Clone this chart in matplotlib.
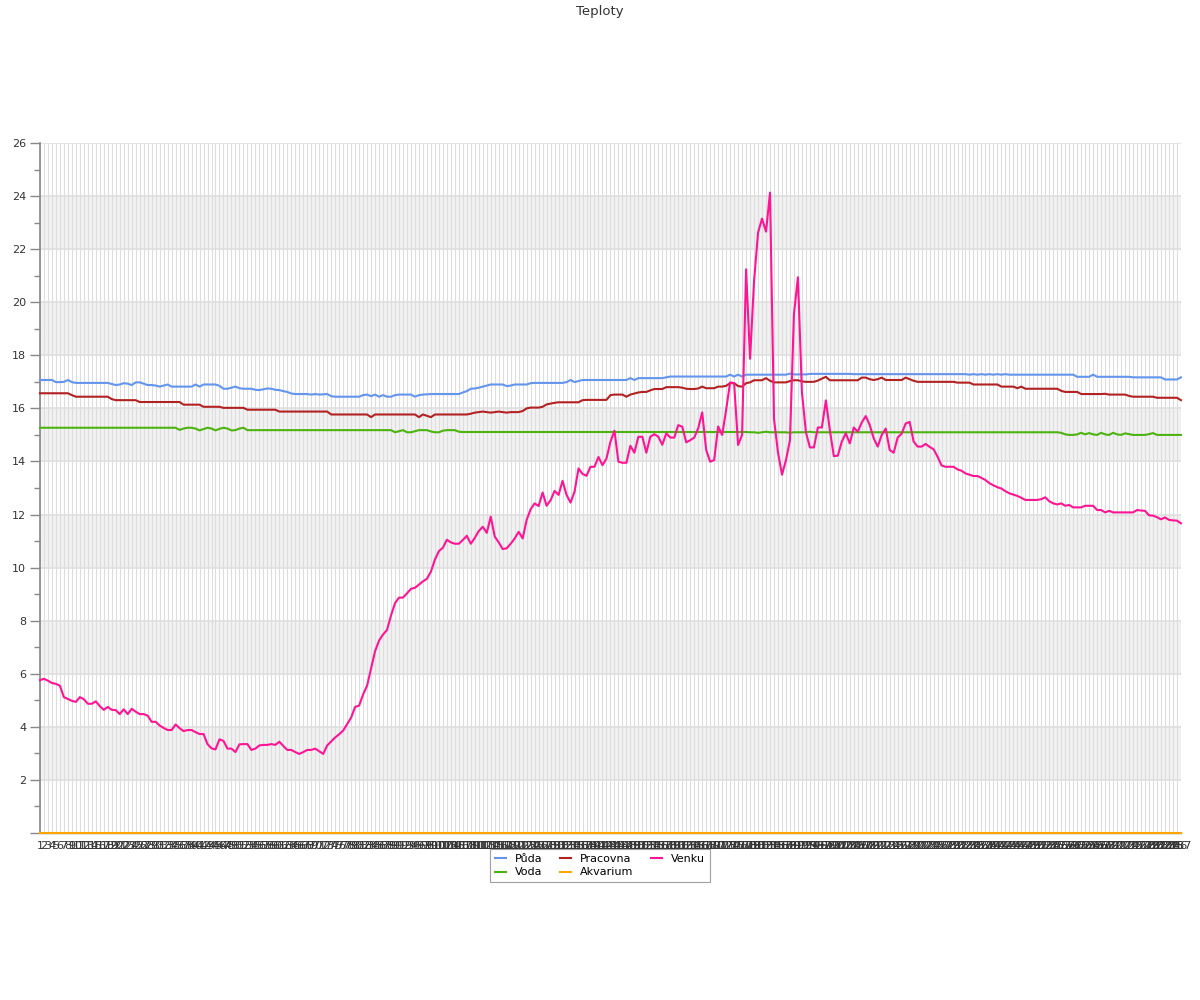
import matplotlib
matplotlib.use('Agg')
import matplotlib.pyplot as plt
from matplotlib.lines import Line2D
from matplotlib.ticker import MultipleLocator

# x categories 1..287
labels = [str(i) for i in range(1, 288)]

puda = [
    17.07, 17.07, 17.07, 17.07, 16.99, 16.99, 17.00, 17.07, 16.99, 16.96,
    16.96, 16.96, 16.96, 16.96, 16.96, 16.96, 16.96, 16.96, 16.92, 16.88,
    16.90, 16.95, 16.93, 16.88, 16.98, 16.98, 16.93, 16.88, 16.88, 16.86,
    16.82, 16.86, 16.90, 16.82, 16.82, 16.82, 16.82, 16.82, 16.82, 16.90,
    16.82, 16.90, 16.90, 16.90, 16.90, 16.85, 16.74, 16.74, 16.78, 16.82,
    16.76, 16.74, 16.74, 16.74, 16.70, 16.69, 16.72, 16.75, 16.74, 16.70,
    16.69, 16.65, 16.62, 16.56, 16.54, 16.54, 16.54, 16.54, 16.52, 16.54,
    16.52, 16.53, 16.54, 16.46, 16.44, 16.44, 16.44, 16.44, 16.44, 16.44,
    16.44, 16.50, 16.52, 16.46, 16.52, 16.44, 16.50, 16.44, 16.44, 16.50,
    16.52, 16.52, 16.52, 16.52, 16.44, 16.50, 16.52, 16.53, 16.54, 16.54,
    16.54, 16.54, 16.54, 16.54, 16.54, 16.54, 16.60, 16.65, 16.74, 16.75,
    16.78, 16.82, 16.86, 16.90, 16.90, 16.90, 16.90, 16.84, 16.86, 16.90,
    16.90, 16.90, 16.90, 16.95, 16.96, 16.96, 16.96, 16.96, 16.96, 16.96,
    16.96, 16.96, 16.99, 17.07, 16.99, 17.03, 17.07, 17.07, 17.07, 17.07,
    17.07, 17.07, 17.07, 17.07, 17.07, 17.07, 17.07, 17.07, 17.14, 17.07,
    17.14, 17.14, 17.14, 17.14, 17.14, 17.14, 17.14, 17.17, 17.20, 17.20,
    17.20, 17.20, 17.20, 17.20, 17.20, 17.20, 17.20, 17.20, 17.20, 17.20,
    17.20, 17.20, 17.20, 17.27, 17.20, 17.27, 17.20, 17.27, 17.27, 17.27,
    17.27, 17.27, 17.27, 17.27, 17.27, 17.27, 17.27, 17.27, 17.31, 17.28,
    17.28, 17.28, 17.28, 17.30, 17.30, 17.30, 17.30, 17.30, 17.30, 17.30,
    17.30, 17.30, 17.30, 17.30, 17.29, 17.29, 17.29, 17.29, 17.29, 17.29,
    17.29, 17.29, 17.29, 17.29, 17.29, 17.29, 17.29, 17.29, 17.29, 17.29,
    17.29, 17.29, 17.29, 17.29, 17.29, 17.29, 17.29, 17.29, 17.29, 17.29,
    17.29, 17.29, 17.29, 17.27, 17.29, 17.27, 17.29, 17.27, 17.29, 17.27,
    17.29, 17.27, 17.29, 17.27, 17.27, 17.27, 17.27, 17.27, 17.27, 17.27,
    17.27, 17.27, 17.27, 17.27, 17.27, 17.27, 17.27, 17.27, 17.27, 17.27,
    17.19, 17.19, 17.19, 17.19, 17.27, 17.19, 17.19, 17.19, 17.19, 17.19,
    17.19, 17.19, 17.19, 17.19, 17.17, 17.17, 17.17, 17.17, 17.17, 17.17,
    17.17, 17.17, 17.09, 17.09, 17.09, 17.09, 17.17,
]

pracovna = [
    16.57, 16.57, 16.57, 16.57, 16.57, 16.57, 16.57, 16.57, 16.50, 16.44,
    16.44, 16.44, 16.44, 16.44, 16.44, 16.44, 16.44, 16.44, 16.35, 16.31,
    16.31, 16.31, 16.31, 16.31, 16.31, 16.24, 16.24, 16.24, 16.24, 16.24,
    16.24, 16.24, 16.24, 16.24, 16.24, 16.24, 16.14, 16.14, 16.14, 16.14,
    16.14, 16.06, 16.06, 16.06, 16.06, 16.06, 16.02, 16.02, 16.02, 16.02,
    16.02, 16.02, 15.95, 15.95, 15.95, 15.95, 15.95, 15.95, 15.95, 15.95,
    15.88, 15.88, 15.88, 15.88, 15.88, 15.88, 15.88, 15.88, 15.88, 15.88,
    15.88, 15.88, 15.88, 15.77, 15.77, 15.77, 15.77, 15.77, 15.77, 15.77,
    15.77, 15.77, 15.77, 15.67, 15.77, 15.77, 15.77, 15.77, 15.77, 15.77,
    15.77, 15.77, 15.77, 15.77, 15.77, 15.67, 15.77, 15.72, 15.67, 15.77,
    15.77, 15.77, 15.77, 15.77, 15.77, 15.77, 15.77, 15.77, 15.80, 15.84,
    15.86, 15.88, 15.86, 15.84, 15.86, 15.88, 15.86, 15.84, 15.86, 15.86,
    15.86, 15.90, 16.00, 16.03, 16.03, 16.03, 16.06, 16.15, 16.18, 16.21,
    16.23, 16.23, 16.23, 16.23, 16.23, 16.23, 16.31, 16.32, 16.32, 16.32,
    16.32, 16.32, 16.32, 16.50, 16.52, 16.52, 16.52, 16.44, 16.52, 16.56,
    16.60, 16.62, 16.62, 16.68, 16.73, 16.73, 16.73, 16.80, 16.80, 16.80,
    16.80, 16.78, 16.74, 16.73, 16.73, 16.75, 16.82, 16.76, 16.76, 16.76,
    16.82, 16.82, 16.85, 16.95, 16.95, 16.84, 16.82, 16.95, 16.98, 17.06,
    17.06, 17.06, 17.14, 17.04, 16.98, 16.98, 16.98, 16.98, 17.03, 17.06,
    17.06, 17.02, 17.00, 17.00, 17.00, 17.05, 17.12, 17.19, 17.06, 17.06,
    17.06, 17.06, 17.06, 17.06, 17.06, 17.06, 17.16, 17.16, 17.10, 17.07,
    17.10, 17.16, 17.07, 17.07, 17.07, 17.07, 17.07, 17.16, 17.10, 17.04,
    17.00, 17.00, 17.00, 17.00, 17.00, 17.00, 17.00, 17.00, 17.00, 17.00,
    16.97, 16.97, 16.97, 16.97, 16.90, 16.90, 16.90, 16.90, 16.90, 16.90,
    16.90, 16.82, 16.82, 16.82, 16.82, 16.76, 16.82, 16.74, 16.74, 16.74,
    16.74, 16.74, 16.74, 16.74, 16.74, 16.74, 16.66, 16.62, 16.62, 16.62,
    16.62, 16.54, 16.54, 16.54, 16.54, 16.54, 16.54, 16.55, 16.52, 16.52,
    16.52, 16.52, 16.52, 16.47, 16.44, 16.44, 16.44, 16.44, 16.44, 16.44,
    16.40, 16.40, 16.40, 16.40, 16.40, 16.40, 16.31,
]

venku = [
    5.76, 5.81, 5.74, 5.65, 5.62, 5.55, 5.12, 5.05, 4.98, 4.94,
    5.12, 5.04, 4.87, 4.87, 4.96, 4.78, 4.64, 4.75, 4.64, 4.63,
    4.48, 4.66, 4.48, 4.68, 4.57, 4.48, 4.48, 4.42, 4.19, 4.19,
    4.05, 3.96, 3.88, 3.88, 4.09, 3.95, 3.84, 3.88, 3.88, 3.80,
    3.73, 3.73, 3.35, 3.19, 3.15, 3.53, 3.47, 3.18, 3.18, 3.05,
    3.34, 3.35, 3.35, 3.13, 3.18, 3.30, 3.32, 3.32, 3.35, 3.32,
    3.44, 3.28, 3.13, 3.13, 3.05, 2.98, 3.05, 3.13, 3.13, 3.18,
    3.08, 2.98, 3.30, 3.45, 3.60, 3.72, 3.86, 4.10, 4.35, 4.75,
    4.80, 5.22, 5.55, 6.20, 6.85, 7.25, 7.48, 7.65, 8.20, 8.66,
    8.87, 8.87, 9.03, 9.20, 9.24, 9.36, 9.48, 9.58, 9.85, 10.30,
    10.62, 10.75, 11.05, 10.95, 10.90, 10.90, 11.04, 11.20, 10.90, 11.12,
    11.38, 11.54, 11.31, 11.92, 11.17, 10.95, 10.70, 10.73, 10.90, 11.10,
    11.35, 11.10, 11.80, 12.20, 12.42, 12.32, 12.83, 12.33, 12.54, 12.89,
    12.74, 13.27, 12.74, 12.45, 12.86, 13.74, 13.53, 13.46, 13.80, 13.80,
    14.17, 13.86, 14.11, 14.74, 15.16, 13.99, 13.95, 13.95, 14.59, 14.33,
    14.93, 14.93, 14.33, 14.93, 15.03, 14.93, 14.63, 15.06, 14.90, 14.90,
    15.37, 15.31, 14.72, 14.80, 14.90, 15.25, 15.85, 14.43, 13.99, 14.05,
    15.32, 15.00, 15.94, 16.98, 16.95, 14.62, 15.00, 21.24, 17.87, 20.80,
    22.62, 23.15, 22.66, 24.13, 15.60, 14.34, 13.50, 14.05, 14.80, 19.56,
    20.94, 16.60, 15.10, 14.53, 14.53, 15.28, 15.28, 16.30, 15.18, 14.20,
    14.22, 14.75, 15.06, 14.68, 15.28, 15.12, 15.47, 15.71, 15.37, 14.87,
    14.56, 15.00, 15.24, 14.43, 14.33, 14.90, 15.05, 15.43, 15.49, 14.75,
    14.56, 14.56, 14.66, 14.55, 14.46, 14.18, 13.85, 13.80, 13.80, 13.80,
    13.70, 13.65, 13.55, 13.50, 13.45, 13.45, 13.38, 13.30, 13.18, 13.10,
    13.03, 12.98, 12.88, 12.80, 12.75, 12.70, 12.63, 12.55, 12.55, 12.55,
    12.55, 12.58, 12.65, 12.50, 12.42, 12.38, 12.42, 12.33, 12.36, 12.27,
    12.27, 12.27, 12.33, 12.33, 12.33, 12.17, 12.17, 12.08, 12.14, 12.08,
    12.08, 12.08, 12.08, 12.08, 12.08, 12.17, 12.15, 12.14, 11.97, 11.96,
    11.90, 11.82, 11.89, 11.80, 11.78, 11.77, 11.67,
]

voda = [
    15.27, 15.27, 15.27, 15.27, 15.27, 15.27, 15.27, 15.27, 15.27, 15.27,
    15.27, 15.27, 15.27, 15.27, 15.27, 15.27, 15.27, 15.27, 15.27, 15.27,
    15.27, 15.27, 15.27, 15.27, 15.27, 15.27, 15.27, 15.27, 15.27, 15.27,
    15.27, 15.27, 15.27, 15.27, 15.27, 15.19, 15.24, 15.27, 15.27, 15.24,
    15.17, 15.22, 15.27, 15.24, 15.17, 15.23, 15.27, 15.24, 15.17, 15.18,
    15.24, 15.27, 15.18, 15.18, 15.18, 15.18, 15.18, 15.18, 15.18, 15.18,
    15.18, 15.18, 15.18, 15.18, 15.18, 15.18, 15.18, 15.18, 15.18, 15.18,
    15.18, 15.18, 15.18, 15.18, 15.18, 15.18, 15.18, 15.18, 15.18, 15.18,
    15.18, 15.18, 15.18, 15.18, 15.18, 15.18, 15.18, 15.18, 15.18, 15.10,
    15.14, 15.18, 15.10, 15.10, 15.14, 15.18, 15.18, 15.18, 15.13, 15.10,
    15.10, 15.16, 15.18, 15.18, 15.18, 15.12, 15.11, 15.11, 15.11, 15.11,
    15.11, 15.11, 15.11, 15.11, 15.11, 15.11, 15.11, 15.11, 15.11, 15.11,
    15.11, 15.11, 15.11, 15.11, 15.11, 15.11, 15.11, 15.11, 15.11, 15.11,
    15.11, 15.11, 15.11, 15.11, 15.11, 15.11, 15.11, 15.11, 15.11, 15.11,
    15.11, 15.11, 15.11, 15.11, 15.11, 15.11, 15.11, 15.11, 15.11, 15.11,
    15.11, 15.11, 15.11, 15.11, 15.11, 15.11, 15.11, 15.11, 15.11, 15.11,
    15.11, 15.11, 15.11, 15.11, 15.11, 15.11, 15.11, 15.11, 15.11, 15.11,
    15.11, 15.11, 15.11, 15.11, 15.11, 15.11, 15.11, 15.11, 15.10, 15.10,
    15.08, 15.10, 15.12, 15.10, 15.10, 15.10, 15.10, 15.10, 15.08, 15.10,
    15.10, 15.10, 15.10, 15.12, 15.10, 15.10, 15.10, 15.10, 15.10, 15.10,
    15.10, 15.10, 15.10, 15.10, 15.10, 15.10, 15.10, 15.10, 15.10, 15.10,
    15.10, 15.10, 15.10, 15.10, 15.10, 15.10, 15.10, 15.10, 15.10, 15.10,
    15.10, 15.10, 15.10, 15.10, 15.10, 15.10, 15.10, 15.10, 15.10, 15.10,
    15.10, 15.10, 15.10, 15.10, 15.10, 15.10, 15.10, 15.10, 15.10, 15.10,
    15.10, 15.10, 15.10, 15.10, 15.10, 15.10, 15.10, 15.10, 15.10, 15.10,
    15.10, 15.10, 15.10, 15.10, 15.10, 15.10, 15.08, 15.02, 15.00, 15.00,
    15.02, 15.08, 15.02, 15.07, 15.02, 15.00, 15.08, 15.02, 15.00, 15.08,
    15.02, 15.00, 15.06, 15.03, 15.00, 15.00, 15.00, 15.00, 15.03, 15.07,
    15.00, 15.00, 15.00, 15.00, 15.00, 15.00, 15.00,
]

akvarium = [
    0, 0, 0, 0, 0, 0, 0, 0, 0, 0, 0, 0, 0, 0, 0, 0, 0, 0, 0, 0,
    0, 0, 0, 0, 0, 0, 0, 0, 0, 0, 0, 0, 0, 0, 0, 0, 0, 0, 0, 0,
    0, 0, 0, 0, 0, 0, 0, 0, 0, 0, 0, 0, 0, 0, 0, 0, 0, 0, 0, 0,
    0, 0, 0, 0, 0, 0, 0, 0, 0, 0, 0, 0, 0, 0, 0, 0, 0, 0, 0, 0,
    0, 0, 0, 0, 0, 0, 0, 0, 0, 0, 0, 0, 0, 0, 0, 0, 0, 0, 0, 0,
    0, 0, 0, 0, 0, 0, 0, 0, 0, 0, 0, 0, 0, 0, 0, 0, 0, 0, 0, 0,
    0, 0, 0, 0, 0, 0, 0, 0, 0, 0, 0, 0, 0, 0, 0, 0, 0, 0, 0, 0,
    0, 0, 0, 0, 0, 0, 0, 0, 0, 0, 0, 0, 0, 0, 0, 0, 0, 0, 0, 0,
    0, 0, 0, 0, 0, 0, 0, 0, 0, 0, 0, 0, 0, 0, 0, 0, 0, 0, 0, 0,
    0, 0, 0, 0, 0, 0, 0, 0, 0, 0, 0, 0, 0, 0, 0, 0, 0, 0, 0, 0,
    0, 0, 0, 0, 0, 0, 0, 0, 0, 0, 0, 0, 0, 0, 0, 0, 0, 0, 0, 0,
    0, 0, 0, 0, 0, 0, 0, 0, 0, 0, 0, 0, 0, 0, 0, 0, 0, 0, 0, 0,
    0, 0, 0, 0, 0, 0, 0, 0, 0, 0, 0, 0, 0, 0, 0, 0, 0, 0, 0, 0,
    0, 0, 0, 0, 0, 0, 0, 0, 0, 0, 0, 0, 0, 0, 0, 0, 0, 0, 0, 0,
    0, 0, 0, 0, 0, 0, 0,
]

series = [
    ('Půda', puda, '#6495ed'),
    ('Voda', voda, '#4db311'),
    ('Pracovna', pracovna, '#b22222'),
    ('Akvarium', akvarium, '#ffa500'),
    ('Venku', venku, '#ff1493'),
]


def main():
    for name, vals, col in series:
        assert len(vals) == len(labels), (name, len(vals))

    fig = plt.figure(figsize=(12, 10), dpi=100)
    ax = fig.add_axes([0.0333, 0.167, 0.9508, 0.69])
    x = list(range(len(labels)))

    # alternating bands
    for lo in range(2, 26, 4):
        ax.axhspan(lo, lo + 2, color='#f2f2f2', zorder=0, lw=0)
    for xi in x:
        ax.axvline(xi, color='#dddddd', lw=0.8, zorder=1)
    for yv in range(2, 27, 2):
        ax.axhline(yv, color='#dddddd', lw=1.1, zorder=1)

    # draw order: Akvarium at back, Venku on top
    draw_order = ['Akvarium', 'Voda', 'Půda', 'Pracovna', 'Venku']
    lookup = {s[0]: s for s in series}
    for i, name in enumerate(draw_order):
        _, vals, col = lookup[name]
        ax.plot(x, vals, color=col, lw=1.5, zorder=3 + i, clip_on=False)

    ax.set_xlim(0, len(labels) - 1)
    ax.set_ylim(0, 26)
    ax.yaxis.set_major_locator(MultipleLocator(2))
    ax.yaxis.set_minor_locator(MultipleLocator(1))
    ylabels = ['' if v == 0 else str(v) for v in range(0, 27, 2)]
    ax.set_yticks(range(0, 27, 2))
    ax.set_yticklabels(ylabels)
    ax.set_xticks(x)
    ax.set_xticklabels(labels)

    ax.tick_params(axis='y', which='major', length=7, width=1, color='#888888',
                   labelsize=8, labelcolor='#333333', pad=3)
    ax.tick_params(axis='y', which='minor', length=4, width=1, color='#888888')
    ax.tick_params(axis='x', length=0, labelsize=8, labelcolor='#333333', pad=6)

    for side in ['top', 'right']:
        ax.spines[side].set_visible(False)
    ax.spines['left'].set_color('#888888')
    ax.spines['left'].set_linewidth(1.2)
    ax.spines['bottom'].set_color('#888888')
    ax.spines['bottom'].set_linewidth(1.0)

    fig.text(0.5, 0.989, 'Teploty', ha='center', va='center', fontsize=9.5, color='#333333')

    handles = [Line2D([], [], color=col, lw=1.5) for _, _, col in series]
    names = [s[0] for s in series]
    leg = fig.legend(handles, names, ncol=3, loc='upper center', bbox_to_anchor=(0.5, 0.157),
                     frameon=True, fancybox=False, edgecolor='#888888', fontsize=8,
                     handlelength=1.0, handletextpad=0.8, columnspacing=1.6,
                     borderpad=0.45, labelspacing=0.35)
    leg.get_frame().set_linewidth(0.8)

    plt.savefig('out.png')


if __name__ == '__main__':
    main()
